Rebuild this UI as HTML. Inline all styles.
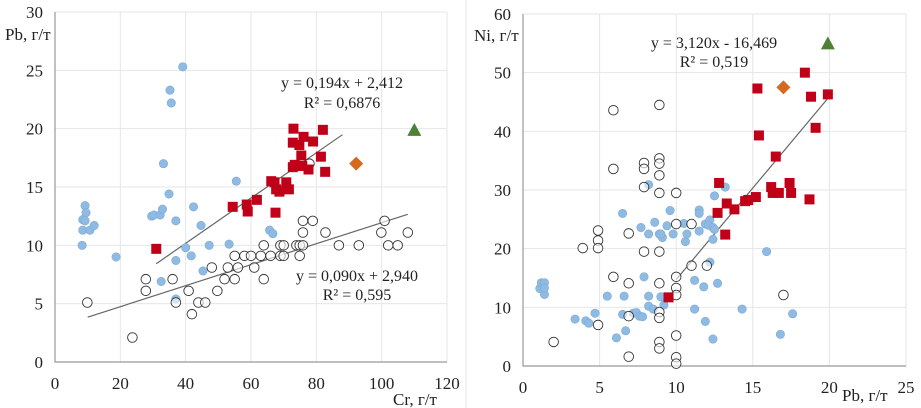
<!DOCTYPE html>
<html><head><meta charset="utf-8">
<style>
html,body{margin:0;padding:0;background:#fff;width:921px;height:408px;overflow:hidden}
svg{display:block;font-family:"Liberation Serif",serif}
</style></head>
<body>
<svg id="c" width="921" height="408" xmlns="http://www.w3.org/2000/svg">
<line x1="466" y1="0" x2="466" y2="408" stroke="#e4e4e4"/>
</svg>
<script>
// Left chart data (Cr vs Pb)
const L_blueX=[9.2,9.5,8.5,9.2,8.5,10.7,12,8.3,18.7,29.6,30.3,32.2,32.9,33.2,34.9,35.2,35.6,39.1,37,37,32.5,37,40,41.7,42.4,44.7,45.3,47.2,53.3,55.5,65.7,66.7];
const L_blueY=[13.4,12.8,12.2,12.1,11.3,11.3,11.7,10,9,12.5,12.6,12.6,13.1,17,14.4,23.3,22.2,25.3,12.1,8.7,6.9,5.4,9.8,9.1,13.3,11.7,7.8,10,10.1,15.5,11.3,11];
const L_openX=[9.9,23.7,27.8,27.8,36,37,40.9,41.9,43.9,46,48,49.7,51.9,52.9,55,55,56,58,60,61,63,63.9,63.9,66,69,70,69,70,73.9,74.9,75.9,74.9,75.9,75.9,78.9,77.9,82.8,86.9,93,99.9,100.9,102,104.9,108];
const L_openY=[5.1,2.1,7.1,6.1,7.1,5.1,6.1,4.1,5.1,5.1,8.1,6.1,7.1,8.1,7.1,9.1,8.1,9.1,9.1,8.1,9.1,7.1,10,9.1,10,10,9.1,9.1,10,10,10,9.1,12.1,11.1,12.1,17,11.1,10,10,11.1,12.1,10,10,11.1];
const L_redX=[31,54.4,58.7,59,61.8,66.2,67.2,67.7,68.7,67.5,70.8,71.6,73,72.8,72.8,74.8,75.4,76.1,75.7,77.6,79,81.4,82,82.7,73.4];
const L_redY=[9.7,13.3,13.5,12.9,13.9,15.5,15.4,14.8,14.6,12.8,15.4,14.8,20,18.8,16.7,18.6,17.7,19.3,16.8,16.5,18.9,17.6,19.9,16.3,16.9];
const L_orange=[92.2,17];
const L_green=[110,19.9];
const L_xTicks=[0,20,40,60,80,100,120];
const L_yTicks=[0,5,10,15,20,25,30];
// Right chart data (Pb vs Ni)
const R_blueX=[1.1,1.2,1.4,1.4,1.4,3.4,4.1,4.3,4.7,5.5,6.1,6.5,6.5,6.6,6.7,7.2,7.4,7.6,7.8,7.7,7.9,8.2,8.2,8.2,8.2,8.5,8.6,8.9,9,9.1,9,9.2,9.4,9.6,9.8,10.5,10.6,10.7,11.2,11.2,11.5,11.5,11.5,11.8,11.9,11.9,12.2,12.1,12.4,12.5,12.2,12.4,12.4,12.5,12.7,13.2,14.3,15.9,16.8,17.6];
const R_blueY=[13.2,14.2,14.2,12.2,13.3,8,7.7,7.3,9,11.9,4.8,8.8,26,11.9,6,9,9.1,8.5,8.4,23.6,15.2,30.9,11.9,22.5,10.2,9.7,24.5,22.5,11.8,21.9,22.5,10.4,23.9,26.5,22.5,24.3,21.2,22.5,14.6,9.7,26.6,26,23,13.5,24.2,7.6,24.9,24,23.6,23.3,17.7,4.6,21.6,29,14.1,30.5,9.7,19.5,5.4,8.9];
const R_openX=[2,3.9,4.9,4.9,4.9,4.9,5.9,5.9,5.9,6.9,6.9,6.9,6.9,7.9,7.9,7.9,7.9,8.9,8.9,8.9,8.9,8.9,8.9,8.9,8.9,8.9,8.9,8.9,10,10,10,10,10,10,10,10,11,11,12,17];
const R_openY=[4.1,20.1,23.1,21.4,20.1,7,43.6,33.6,15.2,22.6,14.1,8.5,1.6,34.6,33.6,30.5,19.5,44.5,35.4,34.5,32.5,29.5,19.5,14.1,9.2,8.2,4.1,3,29.5,24.2,15.2,13.3,12.1,5.2,1.5,0.4,17.1,24.2,17.1,12.1];
const R_redX=[9.5,12.7,12.8,13.2,13.3,13.8,14.5,14.7,15.2,15.3,15.4,16.2,16.3,16.5,16.7,17.4,17.5,18.4,18.7,18.8,19.1,19.9];
const R_redY=[11.7,26.1,31.2,22.4,27.7,26.7,28.1,28.3,28.8,47.3,39.3,30.5,29.5,35.7,29.5,31.2,29.5,50,28.4,45.9,40.6,46.3];
const R_orange=[17,47.5];
const R_green=[19.9,55];
const R_xTicks=[0,5,10,15,20,25];
const R_yTicks=[0,10,20,30,40,50,60];

const svg=document.getElementById('c');
const NS='http://www.w3.org/2000/svg';
function mk(tag,attrs,parent){const e=document.createElementNS(NS,tag);for(const k in attrs)e.setAttribute(k,attrs[k]);(parent||svg).appendChild(e);return e;}

function chart(cfg){
  const g=mk('g',{});
  
  
  const sx=v=>cfg.x0+(v-cfg.xmin)/(cfg.xmax-cfg.xmin)*(cfg.x1-cfg.x0);
  const sy=v=>cfg.y0-(v-cfg.ymin)/(cfg.ymax-cfg.ymin)*(cfg.y0-cfg.y1);
  cfg.xTicks.forEach(t=>{
    if(t!==cfg.xmin){const l=mk('line',{x1:sx(t),x2:sx(t),y1:cfg.y0,y2:cfg.y1,stroke:'#e6e6e6'},g);
    
    }
    const tx=mk('text',{x:sx(t),y:cfg.y0+27,'text-anchor':'middle','font-size':17,fill:'#222'},g);
    tx.textContent=t;
    
    
  });
  cfg.yTicks.forEach(t=>{
    if(t!==cfg.ymin){const l=mk('line',{x1:cfg.x0,x2:cfg.x1,y1:sy(t),y2:sy(t),stroke:'#e6e6e6'},g);
    
    }
    const tx=mk('text',{x:cfg.x0-12,y:sy(t)+6,'text-anchor':'end','font-size':17,fill:'#222'},g);
    tx.textContent=t;
    
    
  });
  const ax=mk('path',{d:`M${cfg.x0},${cfg.y1}V${cfg.y0}H${cfg.x1}`,stroke:'#999',fill:'none','stroke-width':1.2},g);
  
  
  cfg.trends.forEach(tr=>{
    const l=mk('line',{x1:sx(tr.a),y1:sy(tr.m*tr.a+tr.b),x2:sx(tr.z),y2:sy(tr.m*tr.z+tr.b),stroke:'#666','stroke-width':1.2},g);
    
    
  });
  cfg.blueX.forEach((v,i)=>{
    const c=mk('circle',{cx:sx(v),cy:sy(cfg.blueY[i]),r:4.2,fill:'#8fbbe3',stroke:'#7aaad6','stroke-width':0.6},g);
    
    
  });
  cfg.openX.forEach((v,i)=>{
    const c=mk('circle',{cx:sx(v),cy:sy(cfg.openY[i]),r:4.8,fill:'#fff','fill-opacity':0.6,stroke:'#333','stroke-width':0.9},g);
    
    
  });
  cfg.redX.forEach((v,i)=>{
    const r=mk('rect',{x:sx(v)-5,y:sy(cfg.redY[i])-5,width:10,height:10,fill:'#c00018'},g);
    
    
  });
  const ox=sx(cfg.orange[0]),oy=sy(cfg.orange[1]);
  const d=mk('polygon',{points:`${ox},${oy-7} ${ox+7},${oy} ${ox},${oy+7} ${ox-7},${oy}`,fill:'#d4691f'},g);
  
  
  const gx=sx(cfg.green[0]),gy=sy(cfg.green[1]);
  const t=mk('polygon',{points:`${gx},${gy-7} ${gx+7},${gy+6} ${gx-7},${gy+6}`,fill:'#4e8136'},g);
  
  
  cfg.labels.forEach(lb=>{
    const tx=mk('text',{x:lb.x,y:lb.y,'text-anchor':lb.anchor||'start','font-size':lb.size||16,fill:'#222'},g);
    tx.textContent=lb.t;
    
    
  });
}

chart({name:'cr-pb-chart',x0:55,x1:447,y0:362,y1:12,xmin:0,xmax:120,ymin:0,ymax:30,
  xTicks:L_xTicks,yTicks:L_yTicks,blueX:L_blueX,blueY:L_blueY,openX:L_openX,openY:L_openY,
  redX:L_redX,redY:L_redY,orange:L_orange,green:L_green,
  trends:[{m:0.194,b:2.412,a:31,z:88},{m:0.090,b:2.940,a:10,z:108}],
  labels:[{t:'Pb, г/т',x:5,y:40,size:17,name:'y-axis-title'},{t:'Cr, г/т',x:393,y:405,size:17,name:'x-axis-title'},
    {t:'y = 0,194x + 2,412',x:342,y:88,anchor:'middle',name:'trend-equation-red'},
    {t:'R² = 0,6876',x:342,y:108,anchor:'middle',name:'trend-r2-red'},
    {t:'y = 0,090x + 2,940',x:357,y:281,anchor:'middle',name:'trend-equation-open'},
    {t:'R² = 0,595',x:357,y:300,anchor:'middle',name:'trend-r2-open'}]});

chart({name:'pb-ni-chart',x0:523,x1:906,y0:366,y1:14,xmin:0,xmax:25,ymin:0,ymax:60,
  xTicks:R_xTicks,yTicks:R_yTicks,blueX:R_blueX,blueY:R_blueY,openX:R_openX,openY:R_openY,
  redX:R_redX,redY:R_redY,orange:R_orange,green:R_green,
  trends:[{m:3.120,b:-16.469,a:10,z:20}],
  labels:[{t:'Ni, г/т',x:474,y:41,size:17,name:'y-axis-title'},{t:'Pb, г/т',x:842,y:401,size:17,name:'x-axis-title'},
    {t:'y = 3,120x - 16,469',x:714,y:48,anchor:'middle',name:'trend-equation'},
    {t:'R² = 0,519',x:714,y:67,anchor:'middle',name:'trend-r2'}]});
</script>
</body></html>
